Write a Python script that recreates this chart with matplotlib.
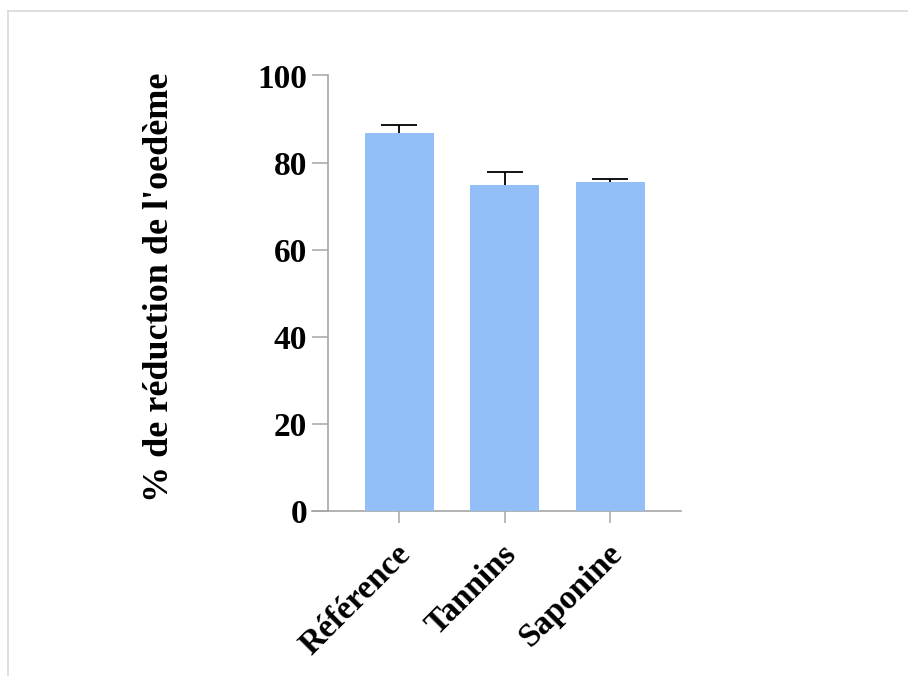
import matplotlib
matplotlib.use("Agg")
import matplotlib.pyplot as plt
from matplotlib.lines import Line2D
from matplotlib.transforms import ScaledTranslation

# Data
categories = ["Référence", "Tannins", "Saponine"]
means = [86.8, 74.9, 75.5]
sems = [1.9, 2.9, 0.7]
y_ticks = [0, 20, 40, 60, 80, 100]
y_label = "% de réduction de l'oedème"

plt.rcParams["font.family"] = ["Liberation Serif", "DejaVu Serif"]
plt.rcParams["font.weight"] = "bold"

W, H = 908, 676
fig = plt.figure(figsize=(W / 100, H / 100), dpi=100)

# Axes box in pixel terms
left_px, right_px, top_px, bottom_px = 312, 681, 75.5, 511
ax = fig.add_axes([left_px / W, 1 - bottom_px / H,
                   (right_px - left_px) / W, (bottom_px - top_px) / H])

axis_color = "#a6a6a6"
bar_color = "#93bff8"

x = list(range(len(categories)))
# Error bars sit behind the bars so only the upper half shows
ax.errorbar(x, means, yerr=sems, fmt="none",
            ecolor="black", elinewidth=1.3, capsize=13, capthick=1.3, zorder=1)
ax.bar(x, means, width=0.654, color=bar_color, edgecolor="none", zorder=2)

ax.set_xlim(-0.825, 2.673)
ax.set_ylim(0, 100)

for s in ["top", "right"]:
    ax.spines[s].set_visible(False)
ax.spines["left"].set_position(("data", -0.673))
for s in ["left", "bottom"]:
    ax.spines[s].set_color(axis_color)
    ax.spines[s].set_linewidth(1.2)
    ax.spines[s].set_zorder(0.5)

ax.set_yticks(y_ticks)
ax.set_yticklabels([str(v) for v in y_ticks], fontsize=24, fontweight="bold")
ax.tick_params(axis="y", length=11.5, width=1.1, color=axis_color, pad=3.5)

ax.set_xticks(x)
ax.set_xticklabels(categories, fontsize=24, fontweight="bold",
                   rotation=45, ha="right", va="center", rotation_mode="anchor")
ax.tick_params(axis="x", length=8.6, width=1.1, color=axis_color, pad=19)
for lab in ax.get_xticklabels():
    lab.set_transform(lab.get_transform() + ScaledTranslation(0.07, 0, fig.dpi_scale_trans))

ax.set_ylabel(y_label, fontsize=26, fontweight="bold")
ax.yaxis.set_label_coords(160 / W, 1 - 287.5 / H, transform=fig.transFigure)
ax.yaxis.label.set_va("center")

# Thin frame along the top and left edges
border = "#d9d9d9"
fig.add_artist(Line2D([8 / W, 8 / W], [0, 1 - 11 / H], transform=fig.transFigure,
                      color=border, lw=1.2))
fig.add_artist(Line2D([8 / W, 1], [1 - 11 / H, 1 - 11 / H], transform=fig.transFigure,
                      color=border, lw=1.2))

fig.savefig("out.png", dpi=100, facecolor="white")
